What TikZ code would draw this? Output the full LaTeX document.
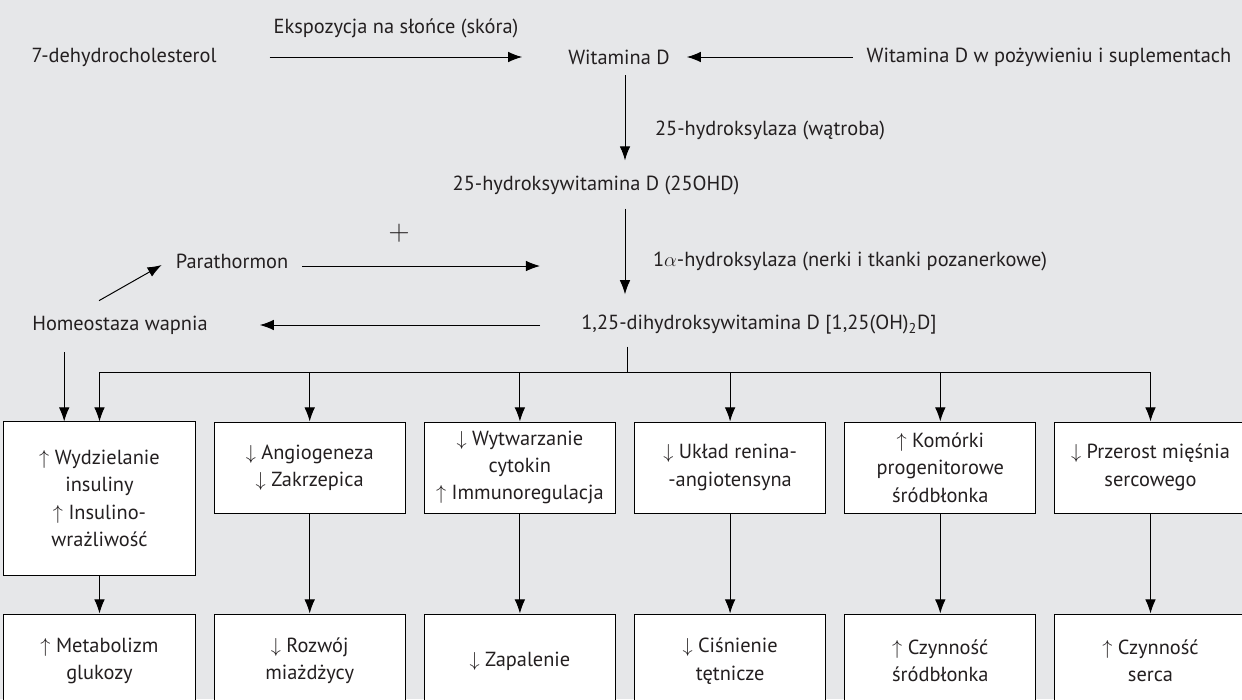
\documentclass[tikz,border=0pt]{standalone}
\usepackage{fontspec}
\setmainfont{PT Sans}
\usetikzlibrary{arrows.meta,calc}
\definecolor{bggray}{HTML}{E6E7E9}
\definecolor{ink}{HTML}{231F20}

\tikzset{
 txt/.style={font=\fontsize{14.5}{19.5}\selectfont, text=ink, inner sep=2pt, align=center},
 effbox/.style={txt, draw, fill=white, line width=0.7pt, minimum width=4.775cm, minimum height=2.275cm},
 resbox/.style={effbox, minimum height=2.35cm},
 arr/.style={-{Latex[length=10pt,width=7.5pt]}, line width=0.7pt},
}

\begin{document}
\begin{tikzpicture}[x=0.025cm, y=-0.025cm]
\fill[bggray] (0,0) rectangle (1242,699);
\clip (0,0) rectangle (1242,699);
% synthesis
\node[txt] (dhc) at (124,57) {7-dehydrocholesterol};
\node[txt] (expo) at (396,28) {Ekspozycja na słońce (skóra)};
\node[txt] (witd) at (619,57) {Witamina D};
\node[txt] (diet) at (1049,57) {Witamina D w pożywieniu i suplementach};
\node[txt] (ohd) at (596,185) {25-hydroksywitamina D (25OHD)};
\node[txt, anchor=west] (hyd25) at (652,130) {25-hydroksylaza (wątroba)};
\node[txt, anchor=west] (hyd1a) at (650,261) {1$\alpha$-hydroksylaza (nerki i tkanki pozanerkowe)};
\node[txt, font=\fontsize{20}{20}\selectfont] (plus) at (399,233) {$+$};
\node[txt] (pth) at (232,261) {Parathormon};
\node[txt] (homeo) at (120,325) {Homeostaza wapnia};
\node[txt] (calc) at (759,325) {1,25-dihydroksywitamina D [1,25(OH)\textsubscript{2}D]};
\coordinate (axis) at (625,0);
\coordinate (pend) at (540,266);
\coordinate (bus) at (627,372);
% effects
\node[effbox, minimum height=3.825cm] (eff1) at (99.5,498.5) {$\uparrow$ Wydzielanie\\insuliny\\$\uparrow$ Insulino-\\wrażliwość};
\node[effbox] (eff2) at (309.7,467.5) {$\downarrow$ Angiogeneza\\$\downarrow$ Zakrzepica};
\node[effbox] (eff3) at (519.9,467.5) {$\downarrow$ Wytwarzanie\\cytokin\\$\uparrow$ Immunoregulacja};
\node[effbox] (eff4) at (730.1,467.5) {$\downarrow$ Układ renina-\\-angiotensyna};
\node[effbox] (eff5) at (940.3,467.5) {$\uparrow$ Komórki\\progenitorowe\\śródbłonka};
\node[effbox] (eff6) at (1150.5,467.5) {$\downarrow$ Przerost mięśnia\\sercowego};
% outcomes
\node[resbox] (res1) at (99.5,661) {$\uparrow$ Metabolizm\\glukozy};
\node[resbox] (res2) at (309.7,661) {$\downarrow$ Rozwój\\miażdżycy};
\node[resbox] (res3) at (519.9,661) {$\downarrow$ Zapalenie};
\node[resbox] (res4) at (730.1,661) {$\downarrow$ Ciśnienie\\tętnicze};
\node[resbox] (res5) at (940.3,661) {$\uparrow$ Czynność\\śródbłonka};
\node[resbox] (res6) at (1150.5,661) {$\uparrow$ Czynność\\serca};
% arrows
\draw[arr] ($(dhc.east)+(50,0)$) -- ($(witd.west)+(-43,0)$);
\draw[arr] ($(diet.west)+(-11,0)$) -- ($(witd.east)+(14,0)$);
\draw[arr] ($(witd.south -| axis)+(0,8)$) -- ($(ohd.north -| axis)+(0,-12)$);
\draw[arr] ($(ohd.south -| axis)+(0,11)$) -- ($(calc.north -| axis)+(0,-18)$);
\draw[arr] ($(pth.east)+(11,5)$) -- (pend);
\draw[arr] ($(homeo.north)+(-21,-12)$) -- ($(pth.west)+(-11,4)$);
\draw[arr] ($(calc.west)+(-38,0)$) -- ($(homeo.east)+(49,0)$);
\draw[arr] ($(homeo.south west)+(35,15)$) coordinate (hd) -- (hd |- eff1.north);
\draw[line width=0.7pt] ($(calc.south -| bus)+(0,9)$) -- (bus);
\draw[line width=0.7pt] (eff1.north |- bus) -- (eff6.north |- bus);
\draw[arr] (eff1.north |- bus) -- (eff1.north);
\draw[arr] (eff2.north |- bus) -- (eff2.north);
\draw[arr] (eff3.north |- bus) -- (eff3.north);
\draw[arr] (eff4.north |- bus) -- (eff4.north);
\draw[arr] (eff5.north |- bus) -- (eff5.north);
\draw[arr] (eff6.north |- bus) -- (eff6.north);
\draw[arr] (eff1.south) -- (res1.north);
\draw[arr] (eff2.south) -- (res2.north);
\draw[arr] (eff3.south) -- (res3.north);
\draw[arr] (eff4.south) -- (res4.north);
\draw[arr] (eff5.south) -- (res5.north);
\draw[arr] (eff6.south) -- (res6.north);
\end{tikzpicture}
\end{document}
